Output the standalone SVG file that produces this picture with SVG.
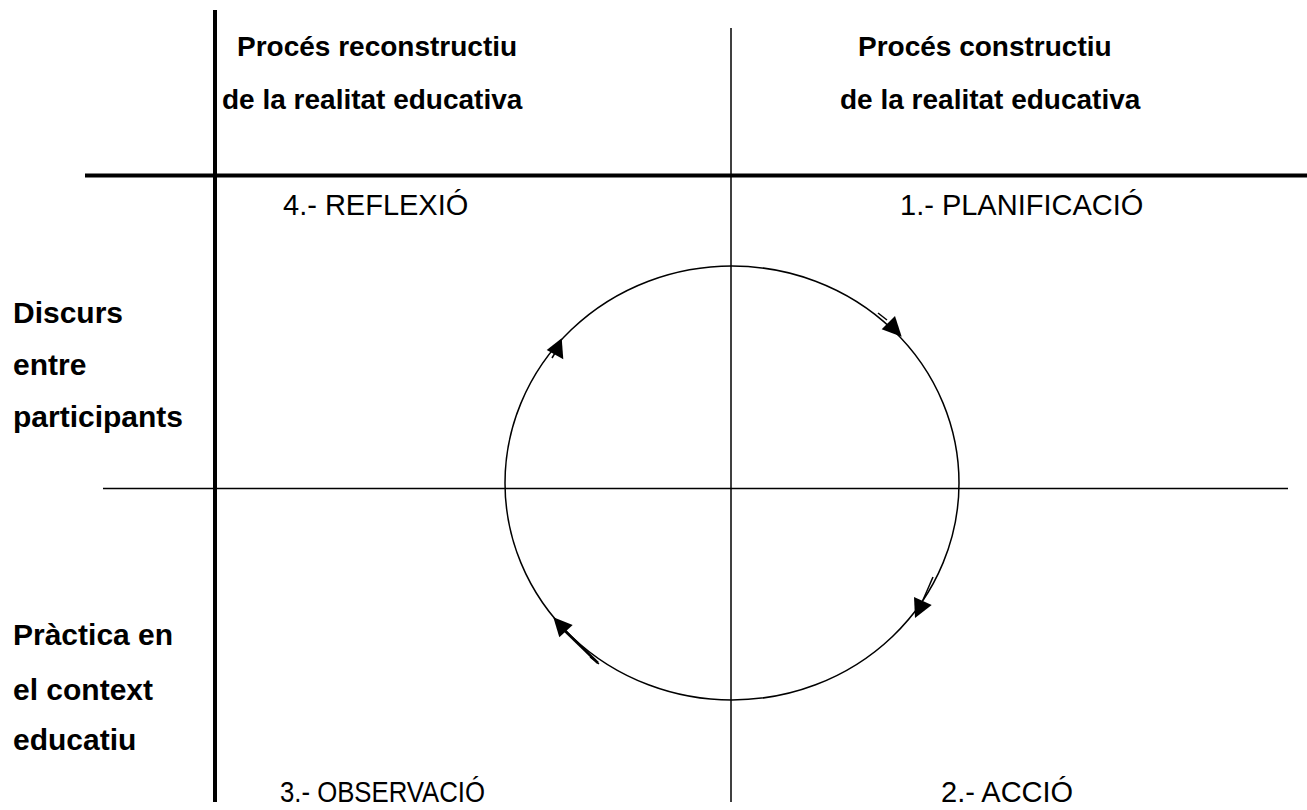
<svg xmlns="http://www.w3.org/2000/svg" width="1307" height="810" viewBox="0 0 1307 810">
<style>
.bold{font-family:"Liberation Sans",Arial,sans-serif;font-weight:bold;font-size:28px;fill:#000}
.row{font-family:"Liberation Sans",Arial,sans-serif;font-weight:bold;font-size:30px;fill:#000}
.reg{font-family:"Liberation Sans",Arial,sans-serif;font-size:29px;fill:#000}
.thick{stroke:#000;stroke-width:4;fill:none}
.thin{stroke:#000;stroke-width:1.5;fill:none}
.head{fill:#000;stroke:none}
</style>
<rect width="1307" height="810" fill="#fff"/>
<g id="grid">
<line class="thick" x1="215" y1="10" x2="215" y2="802"/>
<line class="thick" x1="85" y1="175.5" x2="1307" y2="175.5"/>
<line class="thin" x1="731" y1="28" x2="731" y2="802"/>
<line class="thin" x1="103" y1="488.5" x2="1288" y2="488.5"/>
</g>
<g id="headers">
<text class="bold" x="237" y="56">Procés reconstructiu</text>
<text class="bold" x="222" y="109">de la realitat educativa</text>
<text class="bold" x="858" y="56">Procés constructiu</text>
<text class="bold" x="840" y="109">de la realitat educativa</text>
</g>
<g id="rowlabels">
<text class="row" x="13" y="323">Discurs</text>
<text class="row" x="13" y="375">entre</text>
<text class="row" x="13" y="427">participants</text>
<text class="row" x="13" y="645">Pràctica en</text>
<text class="row" x="13" y="700">el context</text>
<text class="row" x="13" y="750">educatiu</text>
</g>
<g id="node-reflexio"><text class="reg" x="283" y="215">4.- REFLEXIÓ</text></g>
<g id="node-planificacio"><text class="reg" x="900" y="215">1.- PLANIFICACIÓ</text></g>
<g id="node-observacio"><text class="reg" x="280" y="802" textLength="205" lengthAdjust="spacingAndGlyphs">3.- OBSERVACIÓ</text></g>
<g id="node-accio"><text class="reg" x="941" y="802">2.- ACCIÓ</text></g>
<g id="connectors">
<ellipse class="thin" cx="732" cy="483" rx="227" ry="217"/>
<polygon class="head" points="881.7,329.3 895,316 901.7,336.7"/>
<line class="thin" x1="878" y1="313" x2="887" y2="320"/>
<polygon class="head" points="561.7,338.3 546.7,350 563.3,359.3"/>
<line class="thin" x1="552" y1="358" x2="555" y2="353"/>
<polygon class="head" points="914,597 931.7,605 915,618"/>
<line class="thin" x1="933" y1="577" x2="923" y2="600"/>
<polygon class="head" points="553.3,617.3 572.7,625 559.3,637.3"/>
<line stroke="#000" stroke-width="2.5" x1="562" y1="628" x2="598" y2="663"/>
<line class="thin" x1="590" y1="657" x2="599" y2="664"/>
</g>
</svg>
